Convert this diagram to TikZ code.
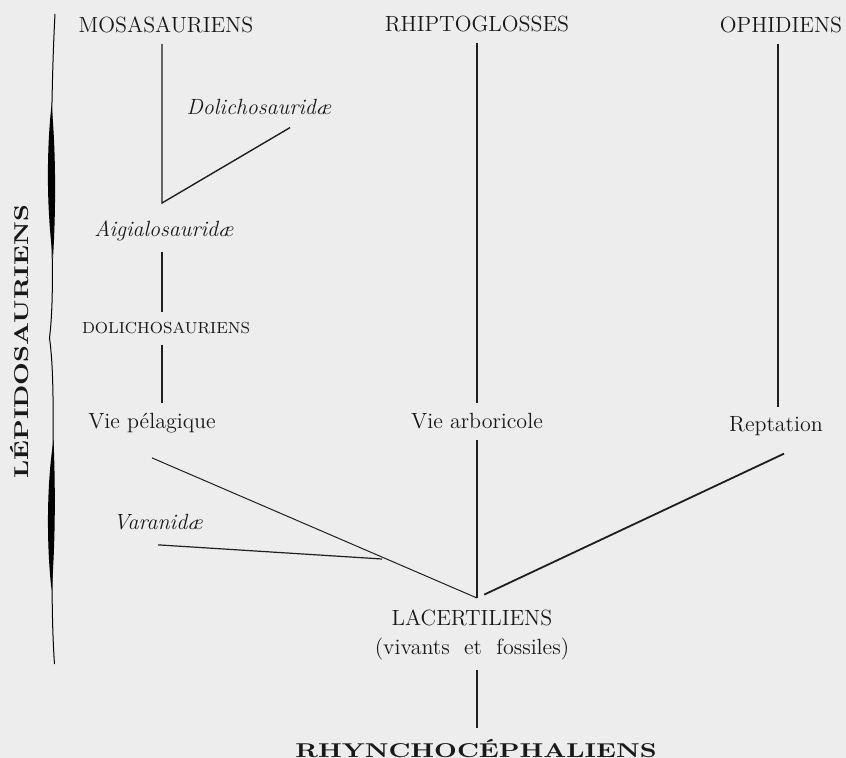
\documentclass[tikz,border=0pt]{standalone}
\usepackage{graphicx}
\usepackage{tikz}
\usetikzlibrary{positioning}
\newcommand{\wide}[1]{\scalebox{1.32}[1]{#1}}

\begin{document}
\begin{tikzpicture}[x=0.5pt,y=-0.5pt,
    every node/.style={inner sep=5pt,anchor=base,text=black!90,font=\fontsize{11}{14}\selectfont},
    family/.style={font=\fontsize{11}{14}\selectfont\itshape},
    petit/.style={font=\fontsize{8}{10}\selectfont},
    grand/.style={font=\fontsize{10}{12}\selectfont\bfseries},
    branch/.style={draw=black!88,line width=0.7pt}]
    \fill[black!7] (0,0) rectangle (846,758);
    \useasboundingbox (0,0) rectangle (846,758);

    \node (mosa) at (166,33) {MOSASAURIENS};
    \node (rhip) at (477,32) {RHIPTOGLOSSES};
    \node (ophi) at (781,33) {OPHIDIENS};
    \node[family] (dol) at (259,115) {Dolichosaurid\ae};
    \node[family] (aig) at (164,237) {Aigialosaurid\ae};
    \node[petit] (dolc) at (166,334) {DOLICHOSAURIENS};
    \node (viep) at (152,429) {Vie p\'elagique};
    \node (viea) at (477,429) {Vie arboricole};
    \node (rept) at (776,432) {Reptation};
    \node[family] (var) at (158,530) {Varanid\ae};
    \node (lac) at (472,625) {LACERTILIENS};
    \node (viv) at (472,654) {(vivants\ \ et\ \ fossiles)};
    \node[grand] (rhy) at (476,757) {\wide{RHYNCHOC\'EPHALIENS}};
    \node[grand,rotate=90] (lep) at (28,342) {\wide{L\'EPIDOSAURIENS}};

    \coordinate (ja) at (162,203);
    \coordinate (jl) at (477,598);
    \coordinate (jv) at (382,559);

    \draw[branch] (mosa.south -| ja) -- (ja) -- ([xshift=15.5pt,yshift=-1pt]dol.south);
    \draw[branch] (aig.south -| ja) -- (dolc.north -| ja);
    \draw[branch] (dolc.south -| ja) -- (viep.north -| ja);
    \path[branch] (rhip) edge (viea);
    \path[branch] ([xshift=-1.5pt]ophi.south) edge ([xshift=1pt]rept.north);
    \draw[branch,line width=0.5pt] ([yshift=-7pt]viep.south) -- (jl);
    \draw[branch,line width=0.6pt] ([yshift=-2pt]var.south) -- (jv);
    \path[branch] (viea) edge (jl);
    \draw[branch,line width=0.9pt,shorten >=4pt] ([xshift=4pt,yshift=-3.5pt]rept.south) -- (jl);
    \draw[branch] (viv.south -| jl) -- (rhy.north -| jl);

    \draw[black,line width=0.5pt] (55,14) .. controls (52,70) and (51,140) .. (51.5,200)
        .. controls (52,260) and (54,300) .. (49.5,338)
        .. controls (54,370) and (53.5,420) .. (52.5,500)
        .. controls (51.5,580) and (52,630) .. (54.5,664);
    \fill[black] (51.5,105) .. controls (46.5,150) and (46.5,210) .. (53,258)
        .. controls (56,210) and (56,150) .. (51.5,105) -- cycle;
    \fill[black] (53.5,440) .. controls (46.5,485) and (46.5,545) .. (51.5,590)
        .. controls (55.5,545) and (55.5,485) .. (53.5,440) -- cycle;
\end{tikzpicture}
\end{document}
